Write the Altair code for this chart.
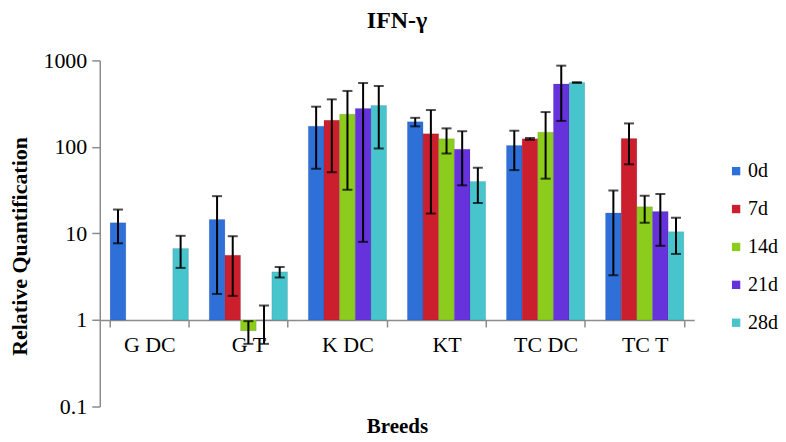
import altair as alt
import pandas as pd

breeds = ["G DC", "G T", "K DC", "KT", "TC DC", "TC T"]
days = ["0d", "7d", "14d", "21d", "28d"]
colors = ["#2e6fd8", "#cc1f2e", "#8ccc1c", "#6632dc", "#48c4cc"]

v0 = [13.3, 14.5, 174, 195, 104, 17.3]
v7 = [None, 5.6, 203, 142, 124, 125]
v14 = [None, 0.75, 238, 124, 148, 20.3]
v21 = [None, 1.0, 278, 94, 535, 17.9]
v28 = [6.7, 3.6, 301, 40, 555, 10.5]

e0 = [5.6, 12.5, 118, 22, 50, 14]
e7 = [None, 3.7, 152, 125, 3, 62]
e14 = [None, 0.22, 206, 40, 105, 7]
e21 = [None, 0.47, 270, 58, 335, 10.7]
e28 = [2.7, 0.5, 205, 17.5, 5, 4.7]

vals = [v0, v7, v14, v21, v28]
errs = [e0, e7, e14, e21, e28]

rows = []
for d, vs, es in zip(days, vals, errs):
    for b, v, e in zip(breeds, vs, es):
        if v is None:
            continue
        rows.append({"Breed": b, "Day": d, "value": v, "base": 1.0,
                     "lo": v - e, "hi": v + e})
df = pd.DataFrame(rows)

FONT = "Liberation Serif"

x = alt.X("Breed:N", sort=breeds,
          scale=alt.Scale(paddingInner=0.21, paddingOuter=0.105),
          axis=alt.Axis(title="Breeds", titleFont=FONT, titleFontSize=21,
                        titleFontWeight="bold", titleColor="black",
                        titleY=96,
                        labelFont=FONT, labelFontSize=22, labelColor="black",
                        labelAngle=0, labelPadding=8,
                        domainColor="#8c8c8c", domainWidth=1.5,
                        tickColor="#8c8c8c", tickWidth=1.5, tickSize=7,
                        tickBand="extent", offset=-86.75))
xo = alt.XOffset("Day:N", sort=days, scale=alt.Scale(paddingInner=0, paddingOuter=0))
yscale = alt.Scale(type="log", domain=[0.1, 1000])

bars = alt.Chart(df).mark_bar(stroke="#1a2a50", strokeOpacity=0.25, strokeWidth=0.5).encode(
    x=x,
    xOffset=xo,
    y=alt.Y("value:Q", scale=yscale,
            axis=alt.Axis(title="Relative Quantification", titleFont=FONT,
                          titleFontSize=22, titleFontWeight="bold", titleColor="black",
                          titleX=-68, titleY=186,
                          values=[0.1, 1, 10, 100, 1000], format="~g",
                          labelFont=FONT, labelFontSize=22, labelColor="black",
                          labelPadding=5, grid=False,
                          domainColor="#8c8c8c", domainWidth=1.5,
                          tickColor="#8c8c8c", tickWidth=1.5, tickSize=8)),
    y2="base:Q",
    color=alt.Color("Day:N", sort=days, scale=alt.Scale(domain=days, range=colors),
                    legend=alt.Legend(title=None, orient="none", legendX=628, legendY=101,
                                      symbolType="square", symbolSize=70,
                                      symbolStrokeWidth=0,
                                      labelFont=FONT, labelFontSize=20,
                                      labelColor="black", rowPadding=18,
                                      labelOffset=2)),
)

rules = alt.Chart(df).mark_rule(color="black", strokeWidth=2).encode(
    x=alt.X("Breed:N", sort=breeds), xOffset=xo,
    y=alt.Y("lo:Q", scale=yscale), y2="hi:Q")
cap_lo = alt.Chart(df).mark_tick(color="black", thickness=2, size=10).encode(
    x=alt.X("Breed:N", sort=breeds), xOffset=xo, y=alt.Y("lo:Q", scale=yscale))
cap_hi = alt.Chart(df).mark_tick(color="black", thickness=2, size=10).encode(
    x=alt.X("Breed:N", sort=breeds), xOffset=xo, y=alt.Y("hi:Q", scale=yscale))

chart = alt.layer(bars, rules, cap_lo, cap_hi).properties(
    width=596, height=347,
    title=alt.TitleParams("IFN-γ", font=FONT, fontSize=24, fontWeight="bold",
                          color="black", offset=17),
    autosize=alt.AutoSizeParams(type="none"),
    padding={"left": 92, "top": 52, "right": 84, "bottom": 33},
).configure(font=FONT).configure_view(stroke=None)

chart.save("out.html", embed_options={"renderer": "svg", "actions": False})
